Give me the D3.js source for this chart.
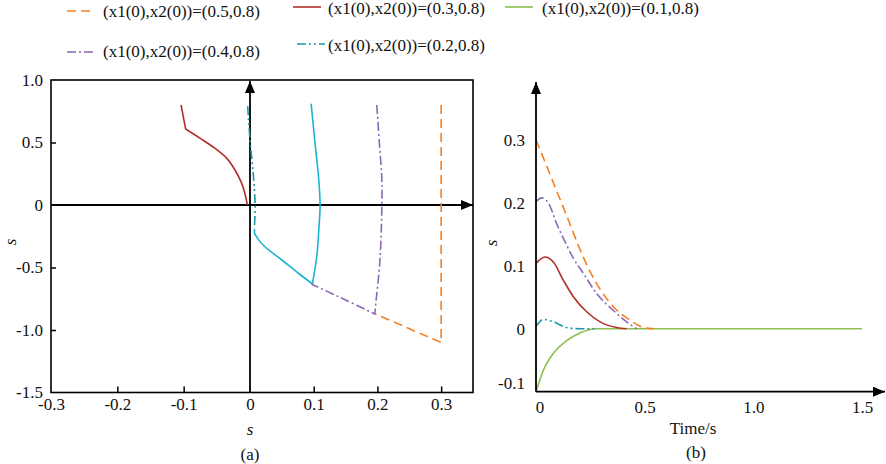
<!DOCTYPE html>
<html>
<head>
<meta charset="utf-8">
<script src="https://cdn.jsdelivr.net/npm/d3@7"></script>
<style>
  body { margin: 0; background: #fff; }
  svg { display: block; }
  text { font-family: "Liberation Serif", "Times New Roman", serif; font-size: 17px; fill: #111; }
  .tick line { stroke: #000; stroke-width: 1.5; }
</style>
</head>
<body>
<div id="chart"></div>
<script>
// legend
const legendLabels = [
  '(x1(0),x2(0))=(0.5,0.8)', '(x1(0),x2(0))=(0.3,0.8)', '(x1(0),x2(0))=(0.1,0.8)',
  '(x1(0),x2(0))=(0.4,0.8)', '(x1(0),x2(0))=(0.2,0.8)'
];
const legendKeys = ['orange', 'red', 'green', 'purple', 'teal'];

// panel (a) ticks
const phaseXTicks = [-0.3, -0.2, -0.1, 0, 0.1, 0.2, 0.3];
const phaseYTicks = [1.0, 0.5, 0, -0.5, -1.0, -1.5];

// panel (a) trajectories [x, y]
const phaseOrange = [[0.3, 0.8], [0.3, -1.1], [0.197, -0.872]];
const phaseRed = [[-0.104, 0.8], [-0.097, 0.608], [-0.075, 0.533], [-0.055, 0.462], [-0.035, 0.373],
  [-0.0226, 0.28], [-0.0125, 0.173], [-0.0065, 0.066], [-0.004, 0]];
const phasePurple = [[0.199, 0.8], [0.203, 0.5], [0.207, 0.2], [0.207, 0], [0.204, -0.44],
  [0.197, -0.81], [0.196, -0.872], [0.15, -0.76], [0.097, -0.634]];
const phaseTeal = [[-0.0035, 0.79], [0, 0.52], [0.005, 0.254], [0.008, 0], [0.007, -0.17]];
const phaseCyan = [[0.096, 0.81], [0.1, 0.6], [0.104, 0.4], [0.108, 0.2], [0.11, 0], [0.108, -0.2],
  [0.105, -0.4], [0.098, -0.632], [0.076, -0.546], [0.05, -0.44], [0.0235, -0.334], [0.013, -0.275],
  [0.007, -0.226], [0.007, -0.19]];

// panel (b) ticks
const timeTicks = [0, 0.5, 1.0, 1.5];
const respTicks = [-0.1, 0, 0.1, 0.2, 0.3];

// panel (b) responses [t, s]
const respOrange = [[0, 0.3], [0.05, 0.258], [0.1, 0.215], [0.15, 0.172], [0.2, 0.128], [0.25, 0.09],
  [0.3, 0.06], [0.356, 0.035], [0.433, 0.0135], [0.494, 0.002], [0.54, 0]];
const respPurple = [[0, 0.202], [0.026, 0.208], [0.057, 0.2], [0.095, 0.167], [0.141, 0.133],
  [0.172, 0.112], [0.218, 0.088], [0.279, 0.056], [0.356, 0.029], [0.417, 0.011], [0.463, 0]];
const respRed = [[0, 0.104], [0.041, 0.114], [0.08, 0.106], [0.126, 0.077], [0.172, 0.051],
  [0.233, 0.027], [0.295, 0.011], [0.371, 0.002], [0.417, 0]];
const respTeal = [[0, 0.004], [0.034, 0.015], [0.08, 0.011], [0.141, 0.002], [0.2, 0], [0.28, 0]];
const respGreen = [[0, -0.1], [0.034, -0.066], [0.08, -0.039], [0.141, -0.019], [0.202, -0.0067],
  [0.279, 0], [1.5, 0]];

const styles = {
  orange: { color: '#f77f1f', dash: '9,5' },
  red: { color: '#b2302a', dash: null },
  green: { color: '#8cbf4f', dash: null },
  purple: { color: '#8a68b8', dash: '9,3,2,3' },
  teal: { color: '#1c98a6', dash: '9,3,2,3,2,3' },
  cyan: { color: '#1ab4d3', dash: null }
};

const width = 886, height = 464;
const fmt = d => d === 0 ? '0' : d.toFixed(1);

const svg = d3.select('#chart').append('svg')
  .attr('width', width).attr('height', height);

svg.append('defs').append('marker')
  .attr('id', 'arrow')
  .attr('markerUnits', 'userSpaceOnUse')
  .attr('viewBox', '0 0 12 10')
  .attr('refX', 12).attr('refY', 5)
  .attr('markerWidth', 12).attr('markerHeight', 10)
  .attr('orient', 'auto')
  .append('path').attr('d', 'M0,0 L12,5 L0,10 Z').attr('fill', '#000');

// smooth line that keeps sharp corners at the given point indices
function drawLine(g, data, key, x, y, curve, corners = []) {
  const st = styles[key];
  const line = d3.line().x(d => x(d[0])).y(d => y(d[1])).curve(curve);
  const cuts = [0, ...corners, data.length - 1];
  let d = '';
  for (let i = 0; i < cuts.length - 1; i++) {
    const part = line(data.slice(cuts[i], cuts[i + 1] + 1));
    d += i === 0 ? part : part.replace(/^M[^A-Za-z]*/, '');
  }
  g.append('path')
    .attr('fill', 'none')
    .attr('stroke', st.color)
    .attr('stroke-width', 1.6)
    .attr('stroke-dasharray', st.dash)
    .attr('d', d);
}

// ---------- legend ----------
const legendPos = [[67, 11, 103, 17], [293, 7, 328, 13.5], [505, 7, 542, 13.5], [67, 52, 103, 57], [297, 44, 328, 51]];
const legend = svg.append('g').attr('class', 'legend');
legendLabels.forEach((label, i) => {
  const [sx, sy, tx, ty] = legendPos[i];
  const st = styles[legendKeys[i]];
  legend.append('line')
    .attr('x1', sx).attr('x2', sx + 28).attr('y1', sy).attr('y2', sy)
    .attr('stroke', st.color).attr('stroke-width', 1.6)
    .attr('stroke-dasharray', st.dash);
  legend.append('text').attr('x', tx).attr('y', ty).text(label);
});

// ---------- panel (a) ----------
const ax = d3.scaleLinear().domain([-0.3, 0, 0.35]).range([51, 250, 473]);
const ay = d3.scaleLinear().domain([-1.5, 1.0]).range([392.5, 80]);
const pa = svg.append('g').attr('class', 'panel-a');

pa.append('rect')
  .attr('x', ax(-0.3)).attr('y', ay(1.0))
  .attr('width', ax(0.35) - ax(-0.3)).attr('height', ay(-1.5) - ay(1.0))
  .attr('fill', 'none').attr('stroke', '#000').attr('stroke-width', 1.6);

pa.append('g')
  .attr('transform', `translate(0,${ay(-1.5)})`)
  .call(d3.axisBottom(ax).tickValues(phaseXTicks).tickFormat(fmt).tickSizeInner(-6).tickSizeOuter(0).tickPadding(5.5))
  .call(g => g.select('.domain').remove())
  .call(g => g.selectAll('.tick').filter(d => d === 0 || d === -0.3).select('line').remove())
  .call(g => g.selectAll('text').attr('font-size', null).attr('font-family', null));

pa.append('g')
  .attr('transform', `translate(${ax(-0.3)},0)`)
  .call(d3.axisLeft(ay).tickValues(phaseYTicks).tickFormat(fmt).tickSizeInner(-5).tickSizeOuter(0).tickPadding(8))
  .call(g => g.select('.domain').remove())
  .call(g => g.selectAll('.tick').filter(d => d === 1.0 || d === -1.5 || d === 0).select('line').remove())
  .call(g => g.selectAll('text').attr('font-size', null).attr('font-family', null));

// arrow axes
pa.append('line')
  .attr('x1', ax(-0.3)).attr('x2', ax(0.35)).attr('y1', ay(0)).attr('y2', ay(0))
  .attr('stroke', '#000').attr('stroke-width', 1.8).attr('marker-end', 'url(#arrow)');
pa.append('line')
  .attr('x1', ax(0)).attr('x2', ax(0)).attr('y1', ay(-1.5)).attr('y2', ay(1.0) + 1)
  .attr('stroke', '#000').attr('stroke-width', 1.8).attr('marker-end', 'url(#arrow)');

const smooth = d3.curveCatmullRom.alpha(0.5);
drawLine(pa, phaseRed, 'red', ax, ay, smooth, [1]);
drawLine(pa, phaseTeal, 'teal', ax, ay, smooth);
drawLine(pa, phaseCyan, 'cyan', ax, ay, smooth, [7, 12]);
drawLine(pa, phasePurple, 'purple', ax, ay, smooth, [6]);
drawLine(pa, phaseOrange, 'orange', ax, ay, d3.curveLinear);

pa.append('text').attr('x', 250).attr('y', 435).attr('text-anchor', 'middle')
  .attr('font-style', 'italic').text('s');
pa.append('text').attr('x', 250).attr('y', 460).attr('text-anchor', 'middle').text('(a)');
pa.append('text').attr('transform', 'translate(16,242) rotate(-90)').attr('text-anchor', 'middle')
  .attr('font-style', 'italic').text('s');

// ---------- panel (b) ----------
const bx = d3.scaleLinear().domain([0, 1.5]).range([536, 862]);
const by = d3.scaleLinear().domain([-0.1, 0.3]).range([391.7, 140]);
const pb = svg.append('g').attr('class', 'panel-b');

pb.append('g')
  .attr('transform', `translate(0,${by(-0.1)})`)
  .call(d3.axisBottom(bx).tickValues(timeTicks).tickFormat(fmt).tickSize(0).tickPadding(9))
  .call(g => g.select('.domain').remove())
  .call(g => g.selectAll('.tick').filter(d => d === 0).attr('transform', `translate(${bx(0) + 4},0)`))
  .call(g => g.selectAll('text').attr('font-size', null).attr('font-family', null));

pb.append('g')
  .attr('transform', `translate(${bx(0)},0)`)
  .call(d3.axisLeft(by).tickValues(respTicks).tickFormat(fmt).tickSize(0).tickPadding(11))
  .call(g => g.select('.domain').remove())
  .call(g => g.selectAll('.tick').filter(d => d === -0.1).attr('transform', `translate(0,${by(-0.1) - 8})`))
  .call(g => g.selectAll('text').attr('font-size', null).attr('font-family', null));

drawLine(pb, respGreen, 'green', bx, by, d3.curveMonotoneX);
drawLine(pb, respTeal, 'teal', bx, by, d3.curveMonotoneX);
drawLine(pb, respRed, 'red', bx, by, d3.curveMonotoneX);
drawLine(pb, respPurple, 'purple', bx, by, d3.curveMonotoneX);
drawLine(pb, respOrange, 'orange', bx, by, d3.curveMonotoneX);

pb.append('line')
  .attr('x1', bx(0)).attr('x2', 885).attr('y1', by(-0.1)).attr('y2', by(-0.1))
  .attr('stroke', '#000').attr('stroke-width', 1.8).attr('marker-end', 'url(#arrow)');
pb.append('line')
  .attr('x1', bx(0)).attr('x2', bx(0)).attr('y1', by(-0.1)).attr('y2', 82)
  .attr('stroke', '#000').attr('stroke-width', 1.8).attr('marker-end', 'url(#arrow)');

pb.append('text').attr('x', 693).attr('y', 434).attr('text-anchor', 'middle').text('Time/s');
pb.append('text').attr('x', 696).attr('y', 458).attr('text-anchor', 'middle').text('(b)');
pb.append('text').attr('transform', 'translate(497,243) rotate(-90)').attr('text-anchor', 'middle')
  .attr('font-style', 'italic').text('s');
</script>
</body>
</html>
